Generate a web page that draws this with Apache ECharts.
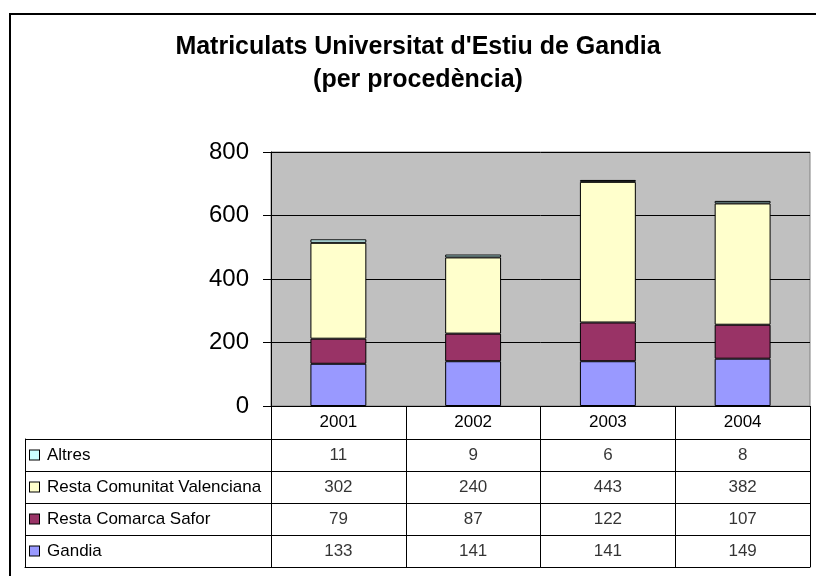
<!DOCTYPE html>
<html>
<head>
<meta charset="utf-8">
<script src="https://cdn.jsdelivr.net/npm/echarts@6/dist/echarts.min.js"></script>
<style>
  body { margin: 0; overflow: hidden; background: #fff; }
  #wrap { position: relative; width: 816px; height: 576px; overflow: hidden; }
  #frame { position: absolute; left: 9px; top: 13px; width: 900px; height: 700px; border: 2px solid #000; box-sizing: border-box; }
  #echart { position: absolute; left: 0; top: 0; width: 816px; height: 576px; }
</style>
</head>
<body>
<div id="wrap">
  <div id="frame"></div>
  <div id="echart"></div>
</div>
<script>
var years = ['2001', '2002', '2003', '2004'];
var gandia = [133, 141, 141, 149];
var safor = [79, 87, 122, 107];
var restaCV = [302, 240, 443, 382];
var altres = [11, 9, 6, 8];
var yTicks = [0, 200, 400, 600, 800];

// bottom to top, same order as the table rows from the bottom
var names = ['Gandia', 'Resta Comarca Safor', 'Resta Comunitat Valenciana', 'Altres'];
var colors = ['#9999FF', '#993366', '#FFFFCC', '#CCFFFF'];
var values = [gandia, safor, restaCV, altres];

var myChart = echarts.init(document.getElementById('echart'));
var font = 'Liberation Sans, Arial, sans-serif';

var series = [];
for (var s = 0; s < names.length; s++) {
  series.push({
    name: names[s],
    type: 'bar',
    stack: 'total',
    xAxisIndex: 0,
    yAxisIndex: 0,
    barWidth: '41.5%',
    itemStyle: { color: colors[s], borderColor: '#000', borderWidth: 1 },
    data: values[s]
  });
}

// table cells
var cells = [];
for (var r = 0; r < names.length; r++) {
  for (var i = 0; i < years.length; i++) {
    cells.push([i, r, values[r][i]]);
  }
}
series.push({
  type: 'scatter',
  xAxisIndex: 1,
  yAxisIndex: 1,
  symbolSize: 1,
  itemStyle: { color: 'rgba(0,0,0,0)' },
  label: {
    show: true,
    position: 'inside',
    color: '#000',
    fontFamily: font,
    fontSize: 17,
    formatter: function(p) { return p.value[2]; }
  },
  silent: true,
  data: cells
});

var rich = { t: { fontFamily: font, fontSize: 17, color: '#000', padding: [0, 0, 0, 8] } };
for (var k = 0; k < colors.length; k++) {
  rich['b' + k] = { width: 9, height: 9, backgroundColor: colors[k], borderColor: '#000', borderWidth: 1 };
}

var option = {
  animation: false,
  title: {
    text: "Matriculats Universitat d'Estiu de Gandia\n(per procedència)",
    left: 418,
    top: 31,
    padding: 0,
    textAlign: 'center',
    textStyle: { fontFamily: font, fontSize: 25, fontWeight: 'bold', color: '#000', lineHeight: 33 }
  },
  grid: [
    { left: 271, right: 6, top: 152, bottom: 170, show: true, backgroundColor: '#C0C0C0', borderColor: '#808080', borderWidth: 1 },
    { left: 271, right: 6, top: 439, bottom: 9 },
    // label column of the table, only for its left border
    { left: 25, right: 545, top: 439, bottom: 9 }
  ],
  xAxis: [
    {
      type: 'category',
      gridIndex: 0,
      data: years,
      axisLine: { lineStyle: { color: '#000' } },
      axisTick: { show: true, length: 33, lineStyle: { color: '#000' } },
      axisLabel: { color: '#000', fontFamily: font, fontSize: 17, margin: 8 }
    },
    {
      type: 'category',
      gridIndex: 1,
      data: years,
      axisLine: { lineStyle: { color: '#000' } },
      axisTick: { show: false },
      axisLabel: { show: false },
      splitLine: { show: true, lineStyle: { color: '#000' } }
    },
    {
      type: 'category',
      gridIndex: 2,
      data: [''],
      axisLine: { lineStyle: { color: '#000' } },
      axisTick: { show: false },
      axisLabel: { show: false }
    }
  ],
  yAxis: [
    {
      type: 'value',
      gridIndex: 0,
      min: yTicks[0],
      max: yTicks[yTicks.length - 1],
      interval: 200,
      axisLine: { show: true, lineStyle: { color: '#000' } },
      axisTick: { show: true, length: 8, lineStyle: { color: '#000' } },
      axisLabel: { color: '#000', fontFamily: font, fontSize: 24, margin: 22 },
      splitLine: { lineStyle: { color: '#000' } }
    },
    {
      type: 'category',
      gridIndex: 1,
      data: names,
      axisLine: { show: true, lineStyle: { color: '#000' } },
      axisTick: { show: true, length: 246, lineStyle: { color: '#000' } },
      axisLabel: {
        align: 'left',
        margin: 241,
        formatter: function(v, idx) { return '{b' + idx + '|}{t|' + v + '}'; },
        rich: rich
      },
      splitLine: { show: true, lineStyle: { color: '#000' } }
    },
    {
      type: 'category',
      gridIndex: 2,
      data: names,
      axisLine: { show: true, lineStyle: { color: '#000' } },
      axisTick: { show: false },
      axisLabel: { show: false }
    }
  ],
  series: series
};

myChart.setOption(option);
</script>
</body>
</html>
